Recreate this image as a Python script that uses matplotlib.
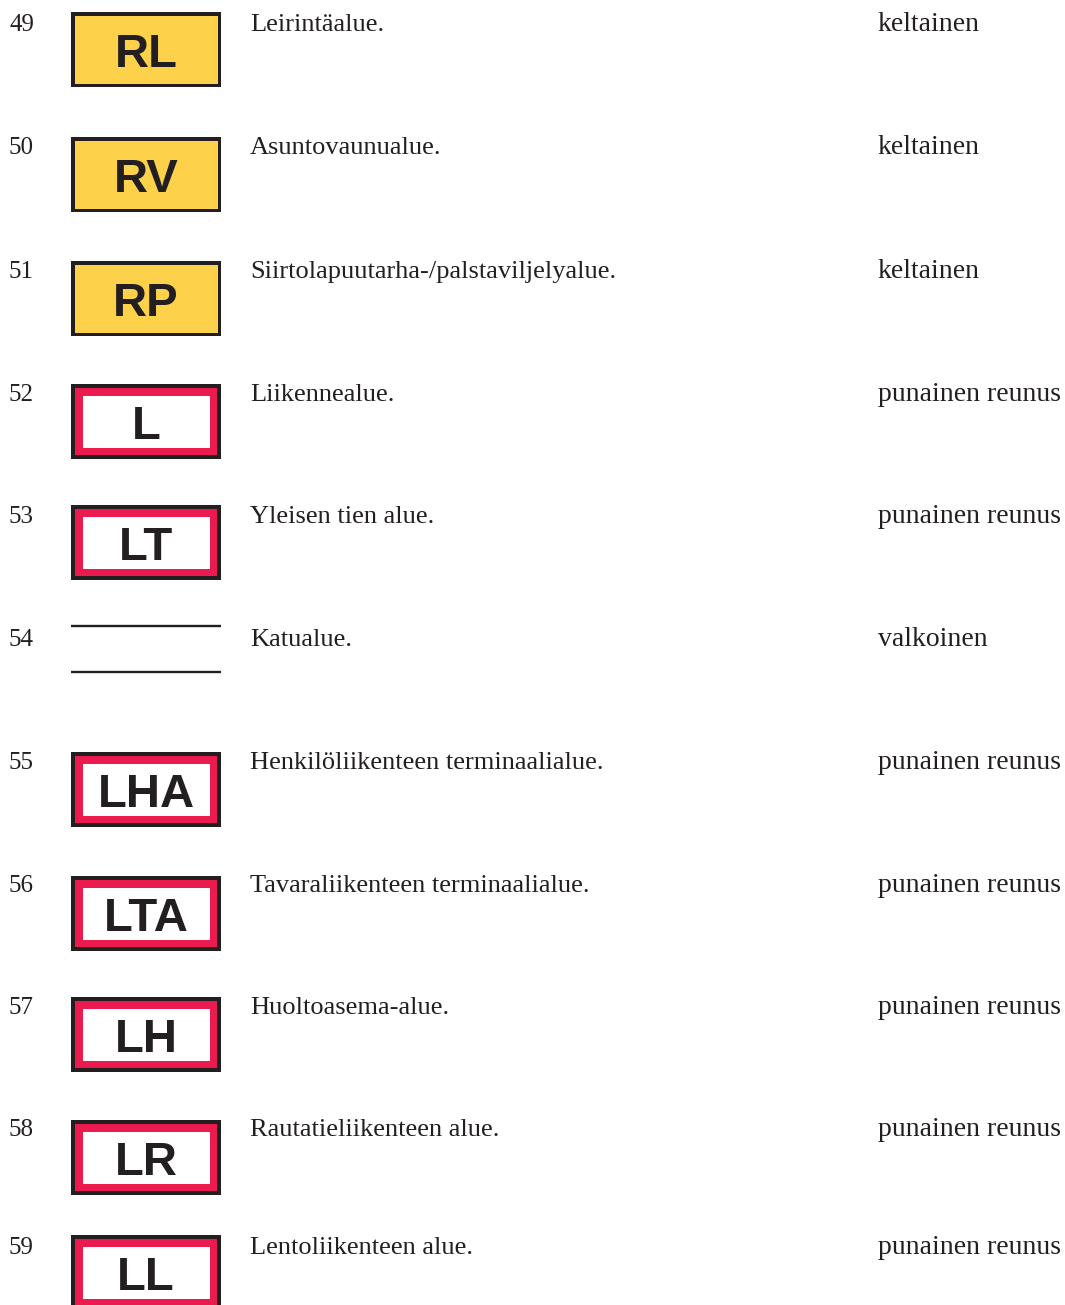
import matplotlib
matplotlib.use("Agg")
import matplotlib.pyplot as plt
from matplotlib.patches import Rectangle

# ---- data ----
numbers = ["49", "50", "51", "52", "53", "54", "55", "56", "57", "58", "59"]
codes = ["RL", "RV", "RP", "L", "LT", "", "LHA", "LTA", "LH", "LR", "LL"]
descriptions = [
    "Leirintäalue.",
    "Asuntovaunualue.",
    "Siirtolapuutarha-/palstaviljelyalue.",
    "Liikennealue.",
    "Yleisen tien alue.",
    "Katualue.",
    "Henkilöliikenteen terminaalialue.",
    "Tavaraliikenteen terminaalialue.",
    "Huoltoasema-alue.",
    "Rautatieliikenteen alue.",
    "Lentoliikenteen alue.",
]
colour_labels = [
    "keltainen", "keltainen", "keltainen",
    "punainen reunus", "punainen reunus", "valkoinen",
    "punainen reunus", "punainen reunus", "punainen reunus",
    "punainen reunus", "punainen reunus",
]
symbol_kinds = ["yellow", "yellow", "yellow", "red", "red", "street",
                "red", "red", "red", "red", "red"]

# ---- layout (pixels) ----
W, H = 1065, 1305
baselines = [31, 154, 278, 401, 523, 646, 769, 892, 1014, 1136, 1254]
box_tops = [12, 137, 261, 384, 505, 626, 752, 876, 997, 1120, 1235]
box_x, box_w, box_h = 71, 150, 75
street_gap = 46

BLACK = "#231f20"
YELLOW = "#fdd14a"
RED = "#ec1b4f"
TEXT = "#231f20"

fig = plt.figure(figsize=(W / 100, H / 100), dpi=100)
ax = fig.add_axes([0, 0, 1, 1])
ax.set_xlim(0, W)
ax.set_ylim(H, 0)
ax.axis("off")

serif = ["Liberation Serif", "DejaVu Serif"]
sans = ["Liberation Sans", "DejaVu Sans"]

for num, code, desc, col, kind, base, top in zip(
        numbers, codes, descriptions, colour_labels, symbol_kinds, baselines, box_tops):
    ax.text(9, base, num, family=serif, fontsize=18, color=TEXT, va="baseline", ha="left")
    ax.text(250, base, desc, family=serif, fontsize=19, color=TEXT, va="baseline", ha="left")
    ax.text(878, base, col, family=serif, fontsize=20, color=TEXT, va="baseline", ha="left")

    if kind == "street":
        for yy in (top, top + street_gap):
            ax.plot([box_x, box_x + box_w], [yy, yy], color=BLACK, lw=1.7,
                    solid_capstyle="butt")
        continue

    ax.add_patch(Rectangle((box_x, top), box_w, box_h, facecolor=BLACK, edgecolor="none"))
    if kind == "yellow":
        ax.add_patch(Rectangle((box_x + 3.5, top + 3.5), box_w - 7, box_h - 7,
                               facecolor=YELLOW, edgecolor="none"))
    else:
        ax.add_patch(Rectangle((box_x + 4, top + 4), box_w - 8, box_h - 8,
                               facecolor=RED, edgecolor="none"))
        ax.add_patch(Rectangle((box_x + 11.5, top + 11.5), box_w - 23, box_h - 23,
                               facecolor="white", edgecolor="none"))
    ax.text(box_x + box_w / 2, top + 55, code, family=sans, fontweight="bold",
            fontsize=34, color=BLACK, ha="center", va="baseline")

fig.savefig("out.png", dpi=100, facecolor="white")
